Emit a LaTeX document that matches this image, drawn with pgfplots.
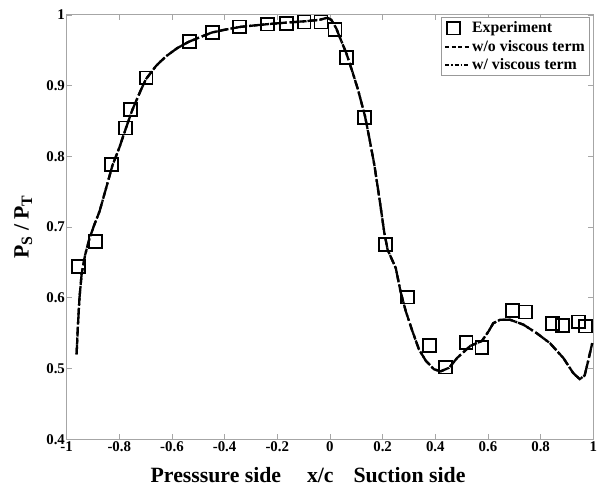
\documentclass[border=0pt]{standalone}
\usepackage{fontspec}
\setmainfont{Liberation Serif}
\usepackage{pgfplots}
\usepackage{pgfplotstable}
\pgfplotsset{compat=1.18}

\pgfplotsset{
  wolegend/.style={legend image code/.code={\draw[black, line width=2pt, dash pattern=on 4bp off 2.5bp] (0bp,0bp) -- (24bp,0bp);}},
  wlegend/.style={legend image code/.code={\draw[black, line width=1.6pt, dash pattern=on 4bp off 2bp on 1.5bp off 2bp] (0bp,0bp) -- (24bp,0bp);}},
}

% measured pressure ratio
\pgfplotstableread{
x y
-0.955 0.644
-0.890 0.680
-0.830 0.788
-0.777 0.840
-0.758 0.866
-0.698 0.911
-0.532 0.962
-0.445 0.975
-0.343 0.983
-0.238 0.987
-0.166 0.988
-0.098 0.990
-0.034 0.990
0.019 0.979
0.064 0.940
0.132 0.855
0.211 0.675
0.294 0.601
0.377 0.533
0.438 0.502
0.517 0.537
0.577 0.530
0.694 0.582
0.743 0.580
0.845 0.564
0.883 0.561
0.943 0.566
0.970 0.560
}\expdata

% computed distribution
\pgfplotstableread{
x y
-0.962 0.520
-0.957 0.560
-0.951 0.600
-0.943 0.633
-0.930 0.660
-0.913 0.684
-0.895 0.703
-0.875 0.722
-0.850 0.755
-0.826 0.787
-0.800 0.812
-0.780 0.834
-0.750 0.866
-0.720 0.892
-0.699 0.909
-0.660 0.928
-0.624 0.941
-0.580 0.953
-0.536 0.962
-0.490 0.969
-0.449 0.975
-0.400 0.979
-0.341 0.983
-0.290 0.985
-0.234 0.987
-0.170 0.989
-0.095 0.991
-0.040 0.993
-0.010 0.996
0.005 0.993
0.024 0.981
0.040 0.966
0.062 0.946
0.085 0.920
0.106 0.895
0.133 0.857
0.150 0.825
0.169 0.787
0.190 0.735
0.206 0.693
0.219 0.668
0.250 0.642
0.268 0.609
0.288 0.581
0.313 0.553
0.338 0.527
0.364 0.511
0.395 0.499
0.420 0.496
0.452 0.501
0.483 0.515
0.533 0.532
0.577 0.539
0.603 0.553
0.620 0.564
0.646 0.569
0.684 0.569
0.735 0.562
0.785 0.550
0.835 0.536
0.886 0.515
0.923 0.494
0.948 0.485
0.967 0.490
0.980 0.510
0.996 0.536
}\calcdata

\begin{document}
\begin{tikzpicture}
\begin{axis}[
    scale only axis,
    width=530bp, height=427bp,
    xmin=-1, xmax=1,
    ymin=0.4, ymax=1,
    xtick={-1,-0.8,-0.6,-0.4,-0.2,0,0.2,0.4,0.6,0.8,1},
    xticklabels={-1,-0.8,-0.6,-0.4,-0.2,0,0.2,0.4,0.6,0.8,1},
    ytick={0.4,0.5,0.6,0.7,0.8,0.9,1},
    yticklabels={0.4,0.5,0.6,0.7,0.8,0.9,1},
    tick align=inside,
    axis line style={gray!70, line width=1pt},
    major tick style={gray!70, line width=0.8pt},
    major tick length=5bp,
    tick label style={font=\bfseries\fontsize{15}{17}\selectfont},
    yticklabel style={inner sep=1.5bp},
    xticklabel style={inner sep=2bp},
    xlabel={Presssure side\hspace{26bp}x/c\hspace{20bp}Suction side},
    xlabel style={font=\bfseries\fontsize{22}{24}\selectfont, xshift=-22bp, yshift=-12bp, inner sep=2bp},
    ylabel={P\raisebox{-0.35ex}{\fontsize{16}{18}\selectfont S} / P\raisebox{-0.35ex}{\fontsize{16}{18}\selectfont T}},
    ylabel style={font=\bfseries\fontsize{22}{24}\selectfont, yshift=9bp},
    legend style={at={(rel axis cs:0.993,0.995)}, anchor=north east,
        draw=gray!80, line width=0.8pt, font=\bfseries\fontsize{16}{17}\selectfont,
        inner sep=2.5bp, row sep=2bp, cells={anchor=west}},
    legend cell align=left,
]
\coordinate (topref) at (rel axis cs:0,1);
\coordinate (leftref) at (rel axis cs:0,0);
\addplot[only marks, mark=square, mark size=6.5bp, mark options={black, line width=1.8pt, solid}]
    table {\expdata};
\addlegendentry{Experiment}
\addplot[black, line width=2.3pt, dash pattern=on 7bp off 3bp, wolegend]
    table {\calcdata};
\addlegendentry{w/o viscous term}
\addplot[black, line width=2.3pt, dash pattern=on 10bp off 3bp on 2bp off 3bp, wlegend]
    table {\calcdata};
\addlegendentry{w/ viscous term}
\end{axis}
\path (topref) ++(0,15bp);
\path (leftref) ++(-67bp,0);
\end{tikzpicture}
\end{document}
